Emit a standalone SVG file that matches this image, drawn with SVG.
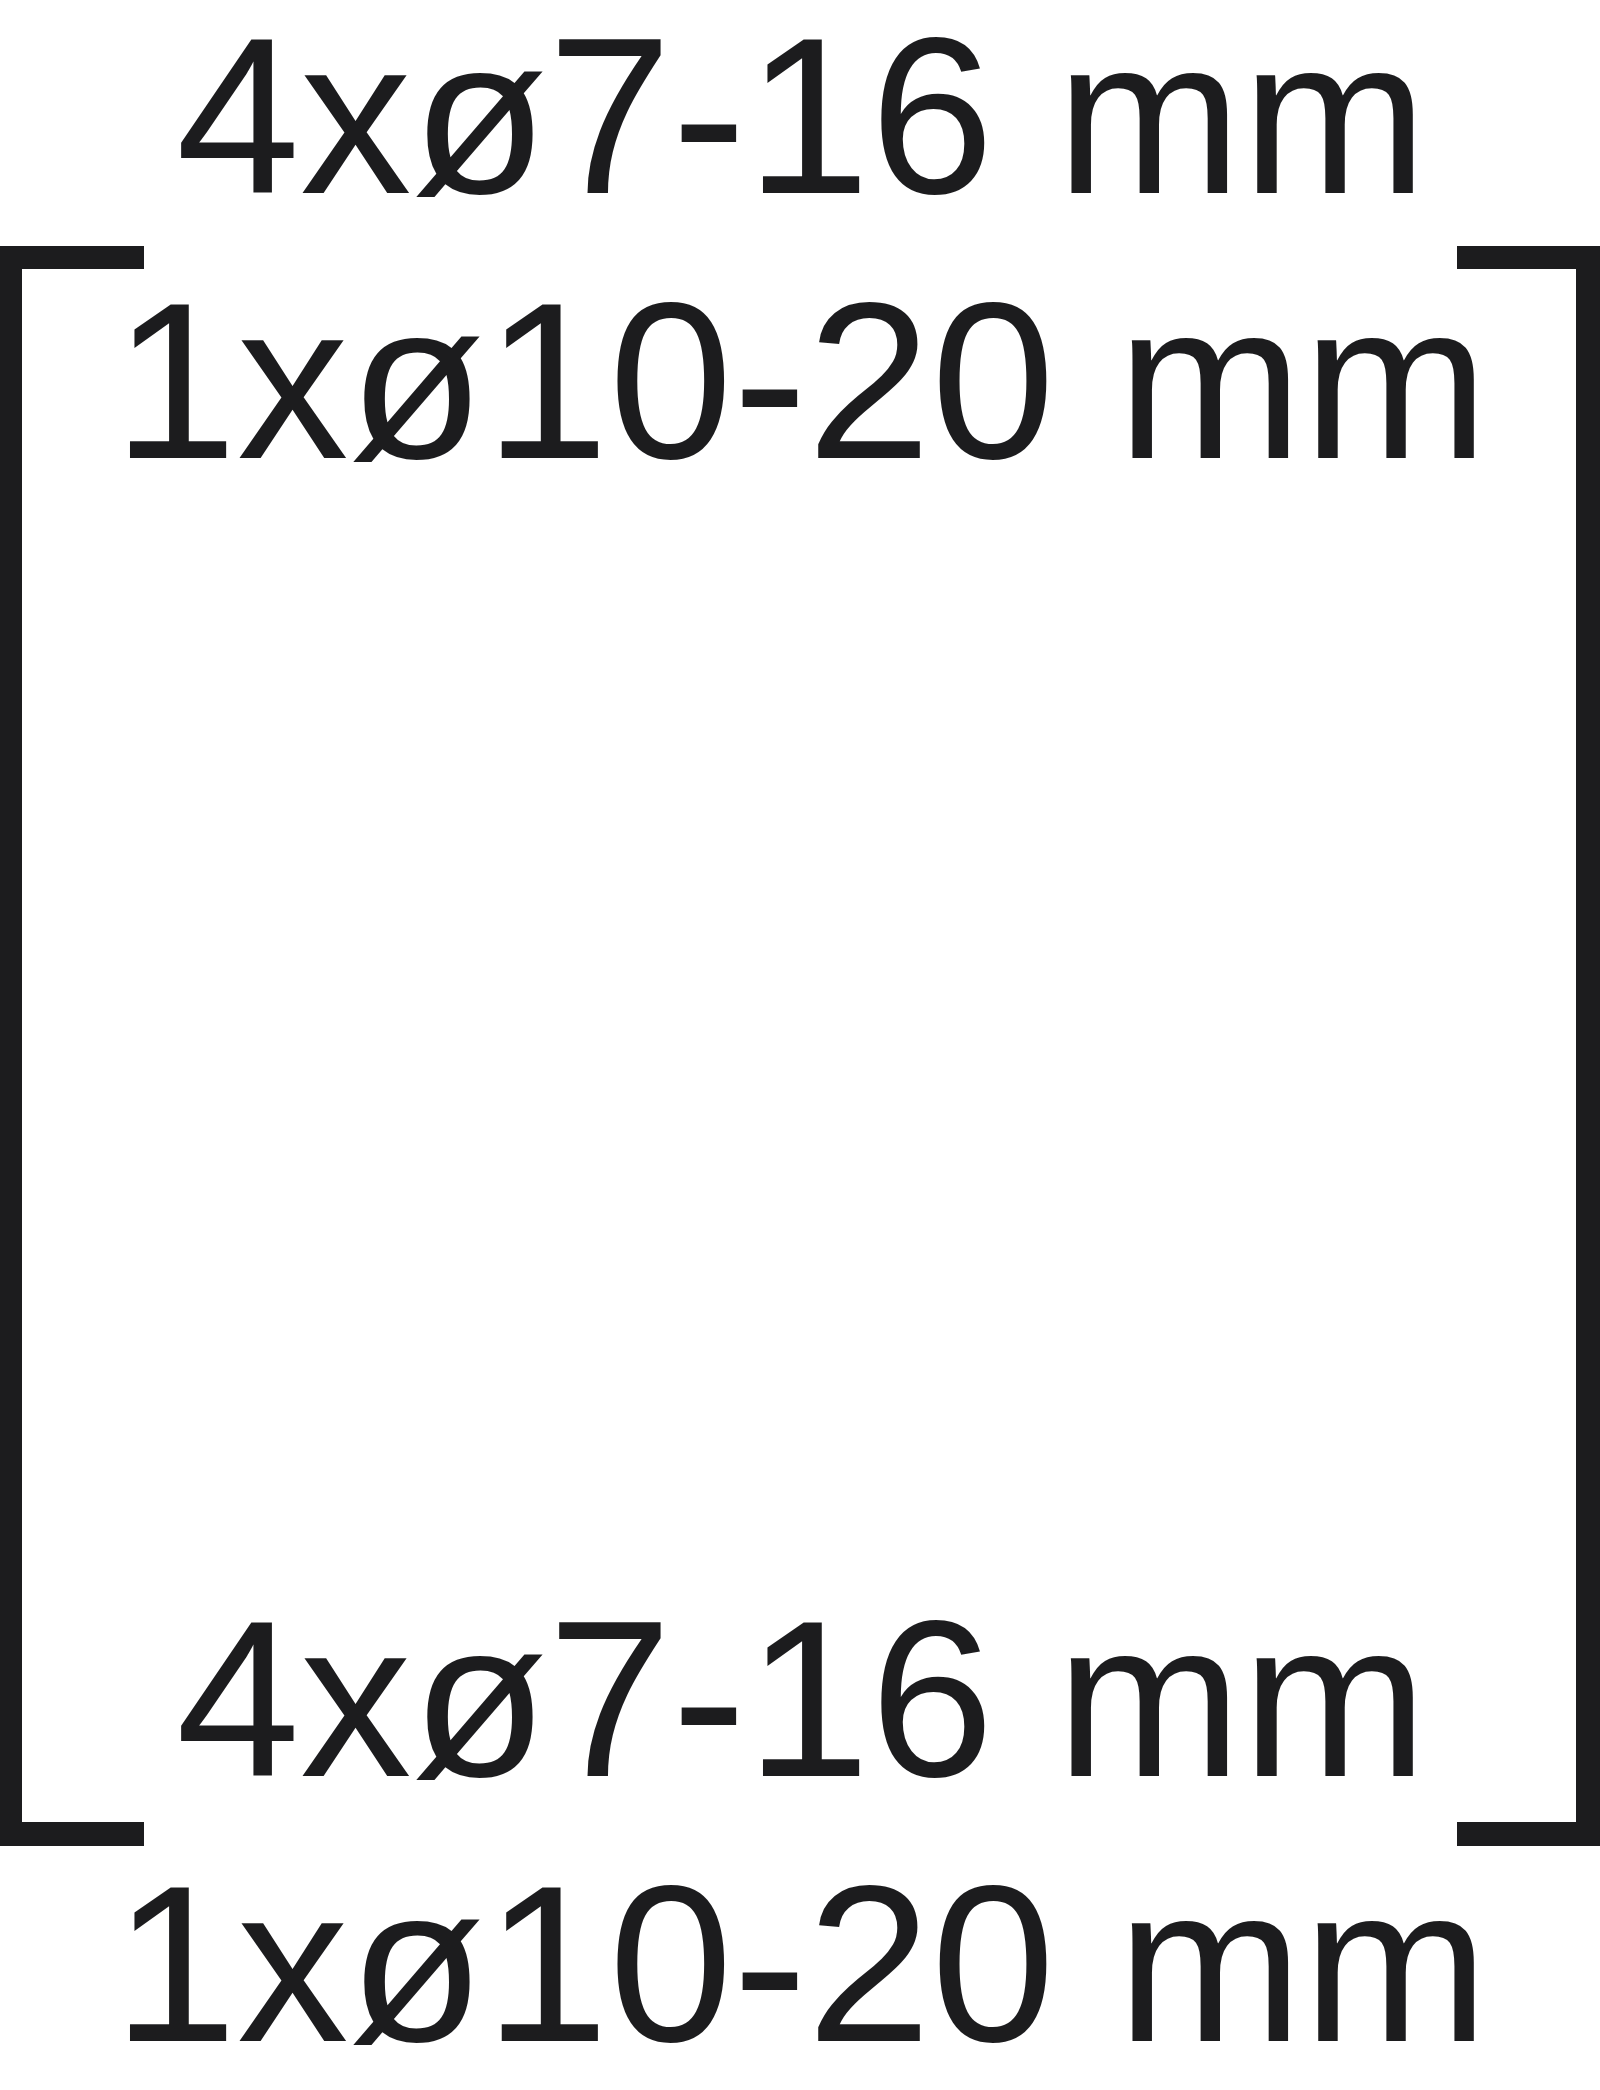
<svg xmlns="http://www.w3.org/2000/svg" width="1600" height="2090" viewBox="0 0 1600 2090">
<style>
.t{font-family:"Liberation Sans",Arial,sans-serif;font-size:223px;fill:#1c1c1e}
.b{fill:#1c1c1e}
</style>
<rect width="1600" height="2090" fill="#ffffff"/>
<g id="brackets">
<path class="b" d="M0,246 H144 V269 H22 V1822 H144 V1846 H0 Z"/>
<path class="b" d="M1600,246 H1457 V269 H1576 V1822 H1457 V1846 H1600 Z"/>
</g>
<g id="label-top-1"><text class="t" x="176" y="193">4xø7-16 mm</text></g>
<g id="label-top-2"><text class="t" x="113" y="458">1xø10-20 mm</text></g>
<g id="label-bottom-1"><text class="t" x="176" y="1776">4xø7-16 mm</text></g>
<g id="label-bottom-2"><text class="t" x="113" y="2041">1xø10-20 mm</text></g>
</svg>
